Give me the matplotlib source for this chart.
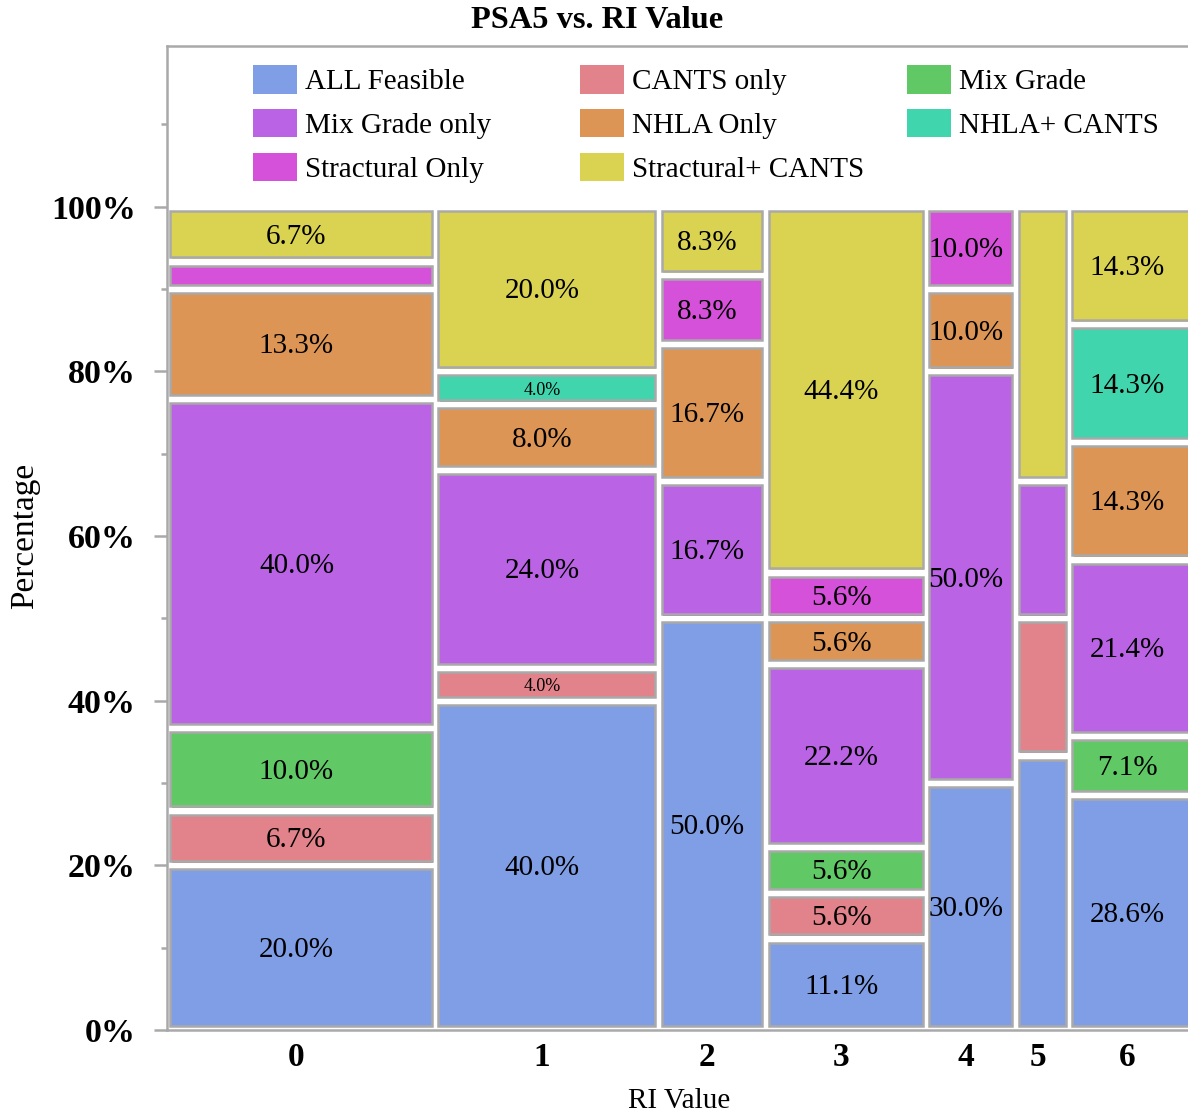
import matplotlib.pyplot as plt
from matplotlib import transforms
from matplotlib.patches import Patch, Rectangle
from matplotlib.ticker import FixedLocator

plt.rcParams["font.family"] = ["Liberation Serif", "DejaVu Serif"]

RI_VALUES = [0, 1, 2, 3, 4, 5, 6]
CATEGORIES = [
    "ALL Feasible", "CANTS only", "Mix Grade", "Mix Grade only",
    "NHLA Only", "NHLA+ CANTS", "Stractural Only", "Stractural+ CANTS",
]
COLORS = [
    "#7f9ee6", "#e2828b", "#61c866", "#ba63e4",
    "#dd9555", "#41d5ad", "#d651da", "#dad351",
]

# counts per RI value (0..6) for each category
ALL_FEASIBLE = [6, 10, 6, 2, 3, 2, 4]
CANTS_ONLY = [2, 1, 0, 1, 0, 1, 0]
MIX_GRADE = [3, 0, 0, 1, 0, 0, 1]
MIX_GRADE_ONLY = [12, 6, 2, 4, 5, 1, 3]
NHLA_ONLY = [4, 2, 2, 1, 1, 0, 2]
NHLA_CANTS = [0, 1, 0, 0, 0, 0, 2]
STRACTURAL_ONLY = [1, 0, 1, 1, 1, 0, 0]
STRACTURAL_CANTS = [2, 5, 1, 8, 0, 2, 2]

COUNTS = [ALL_FEASIBLE, CANTS_ONLY, MIX_GRADE, MIX_GRADE_ONLY,
          NHLA_ONLY, NHLA_CANTS, STRACTURAL_ONLY, STRACTURAL_CANTS]

EDGE = "#a9a9a9"
W, H = 1188, 1118
PX_PER_COUNT = 8.93
HX = 0.38     # half gap between columns, in count units
VY = 0.005    # half gap between tiles, in share units
TEXT_DX = -4.5  # labels sit a little left of the tile centre (pixels)

fig = plt.figure(figsize=(W / 100, H / 100), dpi=100)
ax = fig.add_axes([167 / W, 88 / H, 1021 / W, 984 / H])
ax.set_xlim(0, 1021 / PX_PER_COUNT)
ax.set_ylim(0, 1.195)

# fill drawn slightly down/right of the outline
shadow = transforms.offset_copy(ax.transData, fig=fig, x=1.5, y=-1.5, units="dots")
text_tf = transforms.offset_copy(ax.transData, fig=fig, x=TEXT_DX, y=-2.5, units="dots")

centers = []
cum = 0
for j, ri in enumerate(RI_VALUES):
    n = sum(col[j] for col in COUNTS)
    x0 = cum + HX
    w = n - 2 * HX
    bottom = 0.0
    for k, cat in enumerate(CATEGORIES):
        c = COUNTS[k][j]
        if c == 0:
            continue
        share = c / n
        y0 = bottom + VY
        h = share - 2 * VY
        ax.add_patch(Rectangle((x0, y0), w, h, facecolor=COLORS[k],
                               edgecolor="none", transform=shadow))
        ax.add_patch(Rectangle((x0, y0), w, h, facecolor=COLORS[k],
                               edgecolor=EDGE, linewidth=1.8))
        if n >= 8 and share >= 0.035:
            size = 21 if share >= 0.05 else 13
            ax.text(x0 + w / 2, y0 + h / 2, f"{share * 100:.1f}%",
                    ha="center", va="center", fontsize=size, transform=text_tf)
        bottom += share
    centers.append(cum + n / 2)
    cum += n

ax.set_xticks([c + TEXT_DX / PX_PER_COUNT for c in centers])
ax.set_xticklabels([str(v) for v in RI_VALUES], fontweight="bold")

ax.yaxis.set_major_locator(FixedLocator([0, 0.2, 0.4, 0.6, 0.8, 1.0]))
ax.yaxis.set_minor_locator(FixedLocator([0.1, 0.3, 0.5, 0.7, 0.9, 1.1]))
ax.set_yticklabels([f"{p}%" for p in range(0, 101, 20)], fontweight="bold")

ax.tick_params(axis="x", length=0, pad=9, labelsize=24)
ax.tick_params(axis="y", which="major", length=9.4, width=1.8, color=EDGE,
               pad=13, labelsize=24.5)
ax.tick_params(axis="y", which="minor", length=4.5, width=1.8, color=EDGE)

ax.spines["right"].set_visible(False)
for side in ("left", "bottom", "top"):
    ax.spines[side].set_color(EDGE)
    ax.spines[side].set_linewidth(1.8)

# legend laid out as a fixed 3-column grid
legend_x = [253, 580, 907]
for col, x in enumerate(legend_x):
    idx = list(range(col, len(CATEGORIES), 3))
    handles = [Patch(facecolor=COLORS[i], edgecolor="none") for i in idx]
    fig.legend(handles=handles, labels=[CATEGORIES[i] for i in idx],
               loc="upper left", bbox_to_anchor=(x / W, 1 - 65 / H),
               frameon=False, fontsize=21, handlelength=1.5,
               handleheight=1.13, handletextpad=0.28, labelspacing=0.47,
               borderpad=0, borderaxespad=0)

fig.text(597 / W, 1 - 20 / H, "PSA5 vs. RI Value", ha="center", va="center",
         fontsize=23.3, fontweight="bold")
fig.text(25 / W, 1 - 536 / H, "Percentage", rotation=90, ha="center",
         va="center", fontsize=24)
fig.text(679 / W, 1 - 1101 / H, "RI Value", ha="center", va="center",
         fontsize=21)

fig.savefig("out.png", dpi=100)
